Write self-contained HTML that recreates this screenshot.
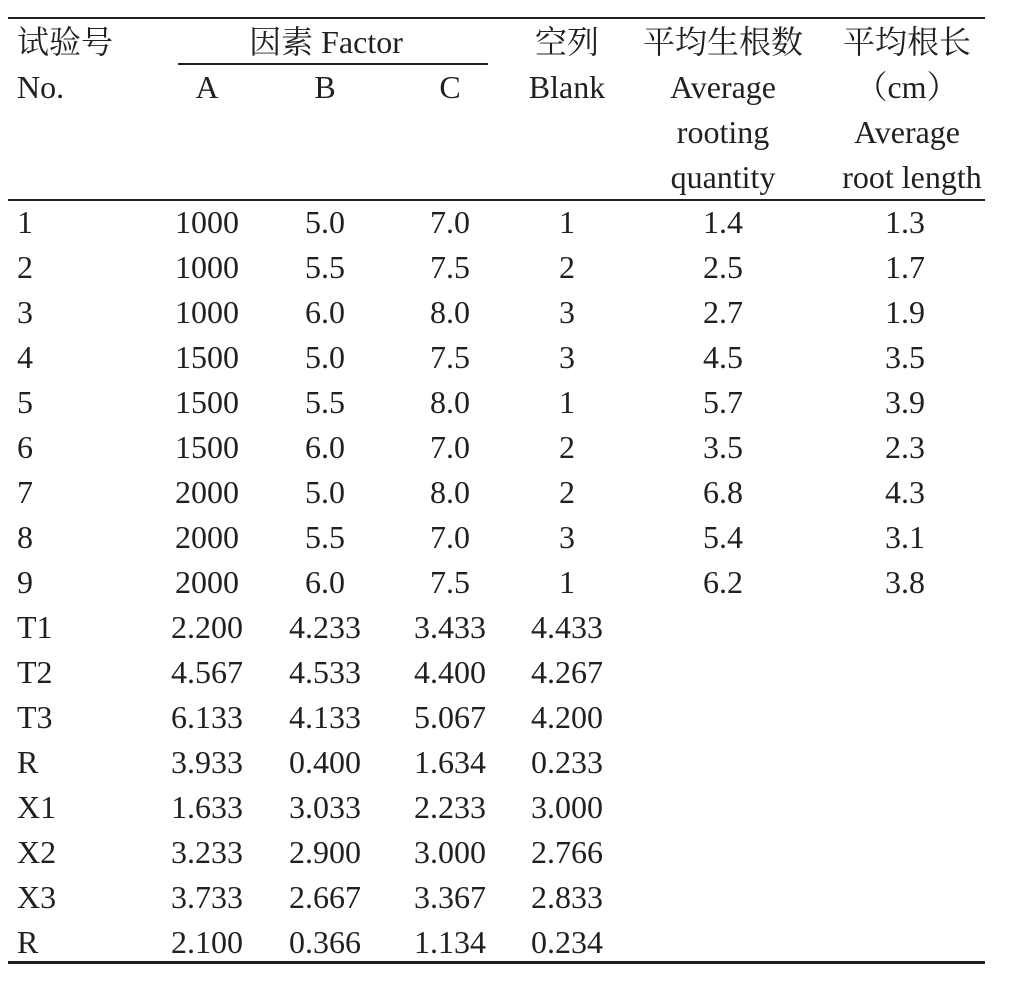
<!DOCTYPE html>
<html><head><meta charset="utf-8"><style>
html,body{margin:0;padding:0;background:#fff;}
body{width:1009px;height:983px;position:relative;overflow:hidden;font-family:"Liberation Serif","Noto Serif CJK SC",serif;font-size:32px;color:#231f20;}
.t{position:absolute;line-height:45px;height:45px;white-space:nowrap;transform:translateX(-50%);}
.l{position:absolute;line-height:45px;height:45px;white-space:nowrap;}
.ln{position:absolute;background:#231f20;}
</style></head><body>
<div class="ln" style="left:8px;top:17px;width:977px;height:2px"></div>
<div class="ln" style="left:178px;top:63px;width:310px;height:1.5px"></div>
<div class="ln" style="left:8px;top:199px;width:977px;height:1.5px"></div>
<div class="ln" style="left:8px;top:961px;width:977px;height:3px"></div>
<div id="c"></div>
<script>
var c=document.getElementById('c'),h='';
function L(x,y,s){h+='<div class="l" style="left:'+x+'px;top:'+(y-23)+'px">'+s+'</div>';}
function T(x,y,s){h+='<div class="t" style="left:'+x+'px;top:'+(y-23)+'px">'+s+'</div>';}
L(17,43,'试验号');L(17,88,'No.');
T(326,43,'因素 Factor');T(207,88,'A');T(325,88,'B');T(450,88,'C');
T(567,43,'空列');T(567,88,'Blank');
T(723,43,'平均生根数');T(723,88,'Average');T(723,133,'rooting');T(723,178,'quantity');
T(907,43,'平均根长');T(907,88,'（cm）');T(907,133,'Average');T(912,178,'root length');
var rows=[['1','1000','5.0','7.0','1','1.4','1.3'],['2','1000','5.5','7.5','2','2.5','1.7'],['3','1000','6.0','8.0','3','2.7','1.9'],['4','1500','5.0','7.5','3','4.5','3.5'],['5','1500','5.5','8.0','1','5.7','3.9'],['6','1500','6.0','7.0','2','3.5','2.3'],['7','2000','5.0','8.0','2','6.8','4.3'],['8','2000','5.5','7.0','3','5.4','3.1'],['9','2000','6.0','7.5','1','6.2','3.8'],
['T1','2.200','4.233','3.433','4.433'],['T2','4.567','4.533','4.400','4.267'],['T3','6.133','4.133','5.067','4.200'],['R','3.933','0.400','1.634','0.233'],['X1','1.633','3.033','2.233','3.000'],['X2','3.233','2.900','3.000','2.766'],['X3','3.733','2.667','3.367','2.833'],['R','2.100','0.366','1.134','0.234']];
var xs=[0,207,325,450,567,723,905];
rows.forEach(function(r,i){var y=223+45*i;L(17,y,r[0]);for(var j=1;j<r.length;j++)T(xs[j],y,r[j]);});
c.innerHTML=h;
</script>
</body></html>
